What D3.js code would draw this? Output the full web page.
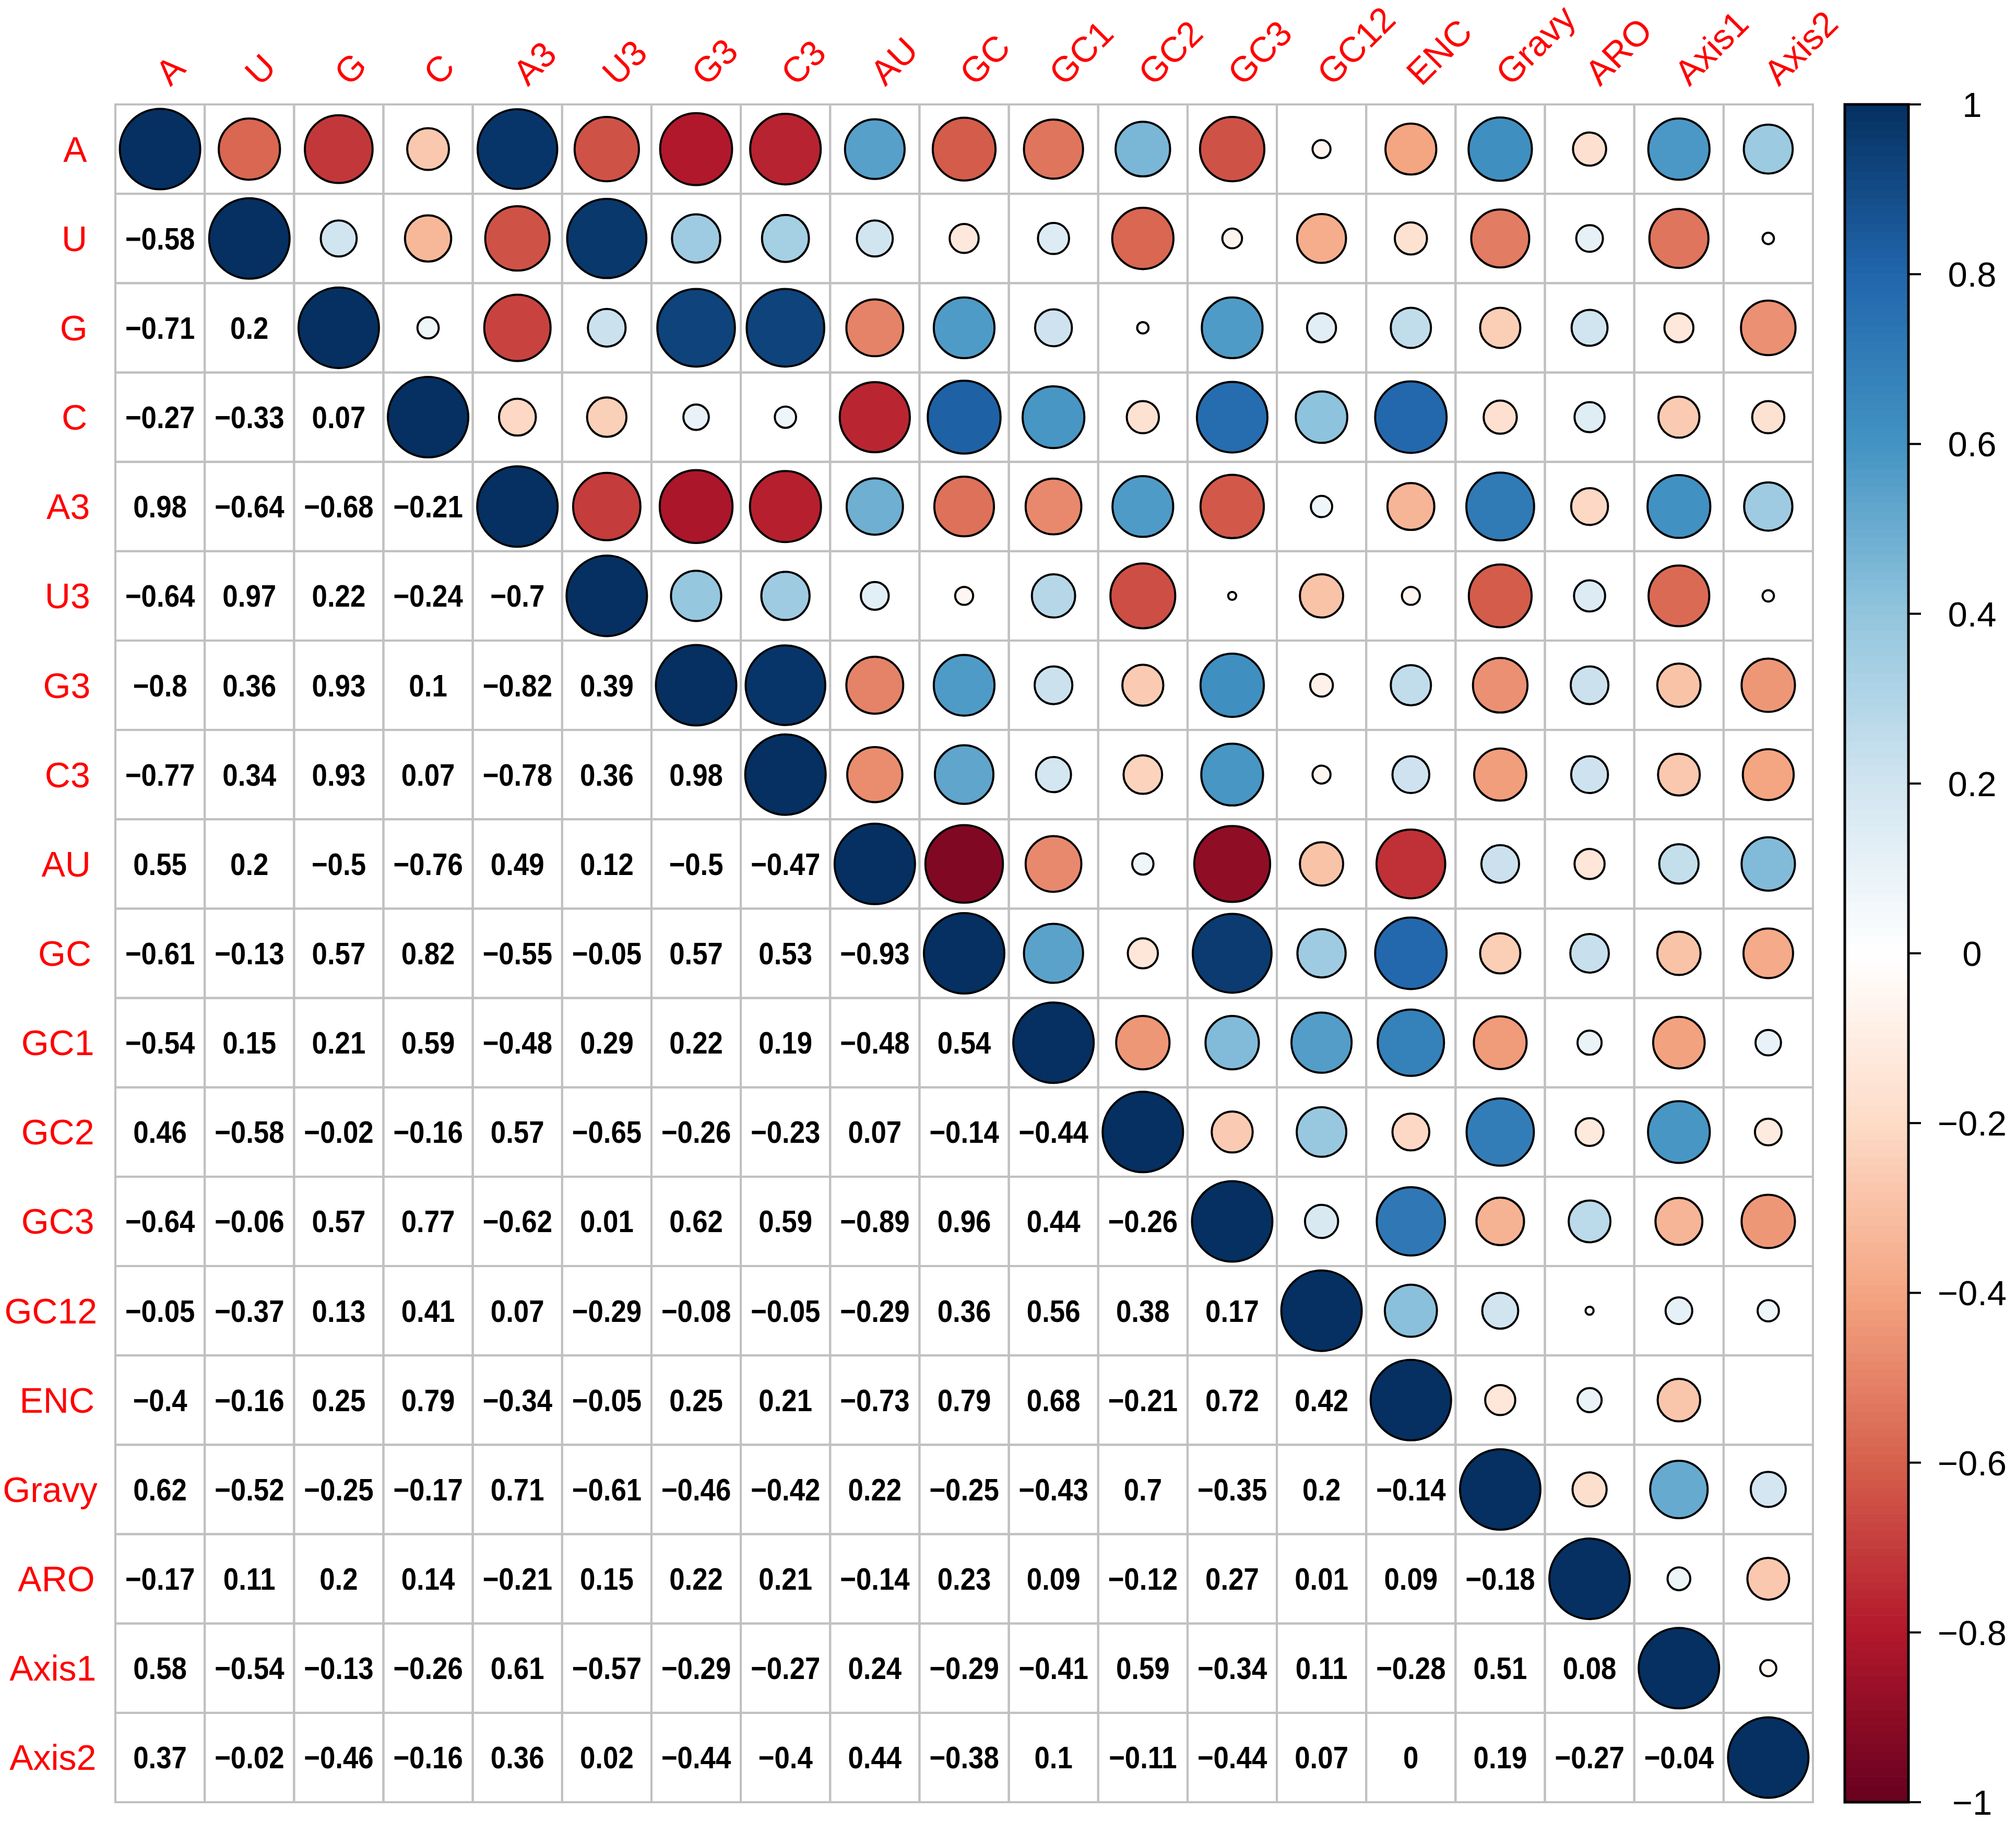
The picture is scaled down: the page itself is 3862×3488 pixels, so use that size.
<!DOCTYPE html>
<html>
<head>
<meta charset="utf-8">
<script src="https://cdn.jsdelivr.net/npm/d3@7.9.0/dist/d3.min.js"></script>
<style>
  html, body { margin: 0; padding: 0; background: #fff; }
  svg { display: block; font-family: "Liberation Sans", Arial, sans-serif; }
</style>
</head>
<body>
<svg id="chart" width="3862" height="3488"></svg>
<script>
// variable names (rows and columns)
const variables = ['A', 'U', 'G', 'C', 'A3', 'U3', 'G3', 'C3', 'AU', 'GC', 'GC1', 'GC2',
  'GC3', 'GC12', 'ENC', 'Gravy', 'ARO', 'Axis1', 'Axis2'];

// lower triangle of the correlation matrix, row by row (row i has i values)
const lowerValues = [
  [],
  [-0.58],
  [-0.71, 0.2],
  [-0.27, -0.33, 0.07],
  [0.98, -0.64, -0.68, -0.21],
  [-0.64, 0.97, 0.22, -0.24, -0.7],
  [-0.8, 0.36, 0.93, 0.1, -0.82, 0.39],
  [-0.77, 0.34, 0.93, 0.07, -0.78, 0.36, 0.98],
  [0.55, 0.2, -0.5, -0.76, 0.49, 0.12, -0.5, -0.47],
  [-0.61, -0.13, 0.57, 0.82, -0.55, -0.05, 0.57, 0.53, -0.93],
  [-0.54, 0.15, 0.21, 0.59, -0.48, 0.29, 0.22, 0.19, -0.48, 0.54],
  [0.46, -0.58, -0.02, -0.16, 0.57, -0.65, -0.26, -0.23, 0.07, -0.14, -0.44],
  [-0.64, -0.06, 0.57, 0.77, -0.62, 0.01, 0.62, 0.59, -0.89, 0.96, 0.44, -0.26],
  [-0.05, -0.37, 0.13, 0.41, 0.07, -0.29, -0.08, -0.05, -0.29, 0.36, 0.56, 0.38, 0.17],
  [-0.4, -0.16, 0.25, 0.79, -0.34, -0.05, 0.25, 0.21, -0.73, 0.79, 0.68, -0.21, 0.72, 0.42],
  [0.62, -0.52, -0.25, -0.17, 0.71, -0.61, -0.46, -0.42, 0.22, -0.25, -0.43, 0.7, -0.35, 0.2, -0.14],
  [-0.17, 0.11, 0.2, 0.14, -0.21, 0.15, 0.22, 0.21, -0.14, 0.23, 0.09, -0.12, 0.27, 0.01, 0.09, -0.18],
  [0.58, -0.54, -0.13, -0.26, 0.61, -0.57, -0.29, -0.27, 0.24, -0.29, -0.41, 0.59, -0.34, 0.11, -0.28, 0.51, 0.08],
  [0.37, -0.02, -0.46, -0.16, 0.36, 0.02, -0.44, -0.4, 0.44, -0.38, 0.1, -0.11, -0.44, 0.07, 0, 0.19, -0.27, -0.04]
];

// RdBu palette used by corrplot and where its colours sit
const paletteColors = ['#67001F', '#B2182B', '#D6604D', '#F4A582', '#FDDBC7', '#FFFFFF',
  '#D1E5F0', '#92C5DE', '#4393C3', '#2166AC', '#053061'];
const paletteStops = [-1, -0.8, -0.6, -0.4, -0.2, 0, 0.2, 0.4, 0.6, 0.8, 1];
const legendTicks = [1, 0.8, 0.6, 0.4, 0.2, 0, -0.2, -0.4, -0.6, -0.8, -1];

const svg = d3.select('#chart');
svg.append('rect').attr('width', 3862).attr('height', 3488).attr('fill', '#fff');

const gridLeft = 221, gridTop = 200, gridSize = 3252;
const x = d3.scaleBand().domain(variables).range([gridLeft, gridLeft + gridSize]);
const y = d3.scaleBand().domain(variables).range([gridTop, gridTop + gridSize]);
const cell = x.bandwidth();
const color = d3.scaleLinear().domain(paletteStops).range(paletteColors);
const fmt = v => (v < 0 ? '\u2212' : '') + String(Math.abs(v));

// full matrix
const cells = [];
variables.forEach((rv, i) => {
  variables.forEach((cv, j) => {
    let v;
    if (i === j) v = 1;
    else if (j < i) v = lowerValues[i][j];
    else v = lowerValues[j][i];
    cells.push({ row: rv, col: cv, i, j, v });
  });
});

// grid cells
svg.append('g').selectAll('rect').data(cells).join('rect')
  .attr('x', d => x(d.col)).attr('y', d => y(d.row))
  .attr('width', cell).attr('height', cell)
  .attr('fill', 'none').attr('stroke', '#c0c0c0').attr('stroke-width', 4);

// circles: upper triangle and diagonal
svg.append('g').selectAll('circle').data(cells.filter(d => d.j >= d.i)).join('circle')
  .attr('cx', d => x(d.col) + cell / 2)
  .attr('cy', d => y(d.row) + cell / 2)
  .attr('r', d => 0.45 * cell * Math.sqrt(Math.abs(d.v)))
  .attr('fill', d => color(d.v))
  .attr('stroke', '#000').attr('stroke-width', 4);

// numbers: lower triangle
svg.append('g').selectAll('text').data(cells.filter(d => d.j < d.i)).join('text')
  .attr('transform', d => `translate(${x(d.col) + cell / 2},${y(d.row) + cell / 2 + 21}) scale(0.88,1)`)
  .attr('text-anchor', 'middle')
  .attr('font-size', 60).attr('font-weight', 'bold').attr('fill', '#000')
  .text(d => fmt(d.v));

// row labels (the original's right edge drifts a little with label length)
svg.append('g').selectAll('text').data(variables).join('text')
  .attr('y', d => y(d) + cell / 2 + 24)
  .attr('text-anchor', 'end').attr('font-size', 68).attr('fill', '#ff0000')
  .text(d => d)
  .attr('x', function () { return 160 + 0.147 * this.getComputedTextLength(); });

// column labels
svg.append('g').selectAll('text').data(variables).join('text')
  .attr('transform', d => `translate(${x(d) + cell / 2 + 20},167) rotate(-45)`)
  .attr('font-size', 68).attr('fill', '#ff0000')
  .text(d => d);

// colour legend
const barX = 3534, barW = 122;
const ly = d3.scaleLinear().domain([1, -1]).range([gridTop, gridTop + gridSize]);
const nSteps = 200;
const steps = d3.range(nSteps).map(k => -1 + (k + 0.5) * 2 / nSteps);
svg.append('g').selectAll('rect').data(steps).join('rect')
  .attr('x', barX).attr('width', barW)
  .attr('y', d => ly(d + 1 / nSteps)).attr('height', ly(-1) - ly(-1 + 2 / nSteps) + 0.6)
  .attr('fill', d => color(d));
svg.append('rect').attr('x', barX).attr('y', gridTop).attr('width', barW).attr('height', gridSize)
  .attr('fill', 'none').attr('stroke', '#000').attr('stroke-width', 5);

const tickG = svg.append('g').selectAll('g').data(legendTicks).join('g')
  .attr('transform', d => `translate(0,${ly(d)})`);
tickG.append('line').attr('x1', barX + barW).attr('x2', barX + barW + 24)
  .attr('stroke', '#000').attr('stroke-width', 4);
tickG.append('text').attr('x', 3778).attr('y', 24)
  .attr('text-anchor', 'middle').attr('font-size', 67).attr('fill', '#000')
  .text(d => fmt(d));
</script>
</body>
</html>
